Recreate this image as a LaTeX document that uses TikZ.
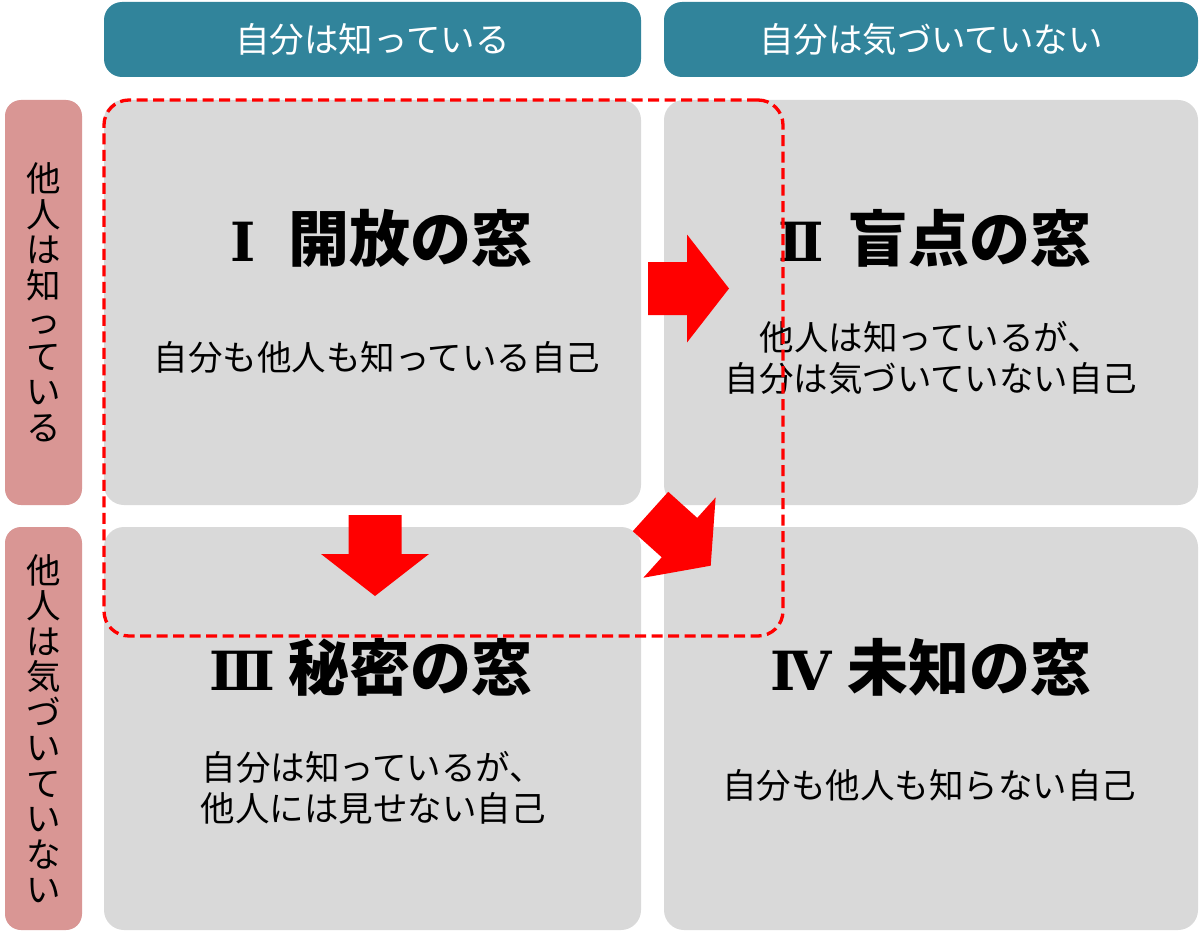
\documentclass[tikz,border=0pt]{standalone}
\usepackage{fontspec}
\setmainfont{Noto Sans CJK JP}
\newfontfamily\roemisch{DejaVu Serif}
\definecolor{kopfblau}{HTML}{31849B}
\definecolor{seitenrot}{HTML}{D99694}
\definecolor{feldgrau}{HTML}{D9D9D9}
\tikzset{
	kopf/.style={rounded corners=18pt, fill=kopfblau, text=white, inner sep=0pt, font=\fontsize{34.5pt}{41pt}\selectfont},
	seite/.style={rounded corners=16pt, fill=seitenrot, inner sep=0pt, align=center, font=\fontsize{34.5pt}{35.5pt}\selectfont},
	feld/.style={rounded corners=20pt, fill=feldgrau, inner sep=0pt},
	titel/.style={inner sep=0pt, font=\fontsize{61pt}{61pt}\selectfont\bfseries},
	erkl/.style={inner sep=0pt, align=center, font=\fontsize{34.5pt}{41pt}\selectfont},
	rahmen/.style={draw=red, line width=3.3pt, dash pattern=on 11pt off 5.5pt, rounded corners=25pt, inner sep=0pt},
	pfeil/.pic={\fill[red] (0,-26.5) -- (39,-26.5) -- (39,-54) -- (81,0) -- (39,54) -- (39,26.5) -- (0,26.5) -- cycle;}
}
\begin{document}
\begin{tikzpicture}[x=1pt, y=-1pt]
	\path[use as bounding box, fill=white] (0,0) rectangle (1200,931);
	% Felder
	\node (Offen) at (372.5,302.5) [feld, minimum width=537pt, minimum height=405pt] {};
	\node (Blind) at (931,302.5) [feld, minimum width=534pt, minimum height=405pt] {};
	\node (Geheim) at (372.5,728.5) [feld, minimum width=537pt, minimum height=403pt] {};
	\node (Unbekannt) at (931,728.5) [feld, minimum width=534pt, minimum height=403pt] {};
	% Kopf und Seite
	\node (SelbstBekannt) at (372.5,39.5) [kopf, minimum width=537pt, minimum height=75pt] {自分は知っている};
	\node (SelbstUnbekannt) at (931,39.5) [kopf, minimum width=534pt, minimum height=75pt] {自分は気づいていない};
	\node (AndereBekannt) at (43.5,302.5) [seite, minimum width=77pt, minimum height=405pt] {他\\人\\は\\知\\っ\\て\\い\\る};
	\node (AndereUnbekannt) at (43.5,728.5) [seite, minimum width=77pt, minimum height=403pt] {他\\人\\は\\気\\づ\\い\\て\\い\\な\\い};
	% Titel und Texte
	\node (OffenTitel) at (372.5,238) [titel] {\makebox[1em]{\roemisch\bfseries\fontsize{54pt}{54pt}\selectfont Ⅰ}\hspace{0.25em}開放の窓};
	\node (BlindTitel) at (931,238) [titel] {\makebox[1em]{\roemisch\bfseries\fontsize{54pt}{54pt}\selectfont Ⅱ}\hspace{0.25em}盲点の窓};
	\node (GeheimTitel) at (372.5,667) [titel] {\makebox[1em]{\roemisch\bfseries\fontsize{54pt}{54pt}\selectfont Ⅲ}\hspace{0.25em}秘密の窓};
	\node (UnbekanntTitel) at (931,667) [titel] {\makebox[1em]{\roemisch\bfseries\fontsize{54pt}{54pt}\selectfont Ⅳ}\hspace{0.25em}未知の窓};
	\node (OffenText) at (377,357) [erkl] {自分も他人も知っている自己};
	\node (BlindText) at (931,357.5) [erkl] {他人は知っているが、\\自分は気づいていない自己};
	\node (GeheimText) at (373,787.5) [erkl] {自分は知っているが、\\他人には見せない自己};
	\node (UnbekanntText) at (929,785) [erkl] {自分も他人も知らない自己};
	% Pfeile
	\pic at (648,288.5) {pfeil};
	\pic[rotate=-90] at (375,515) {pfeil};
	\pic[rotate=-42] at (650.5,511.5) {pfeil};
	\node (Bereich) at (443.5,368) [rahmen, minimum width=679pt, minimum height=536pt] {};
\end{tikzpicture}
\end{document}
